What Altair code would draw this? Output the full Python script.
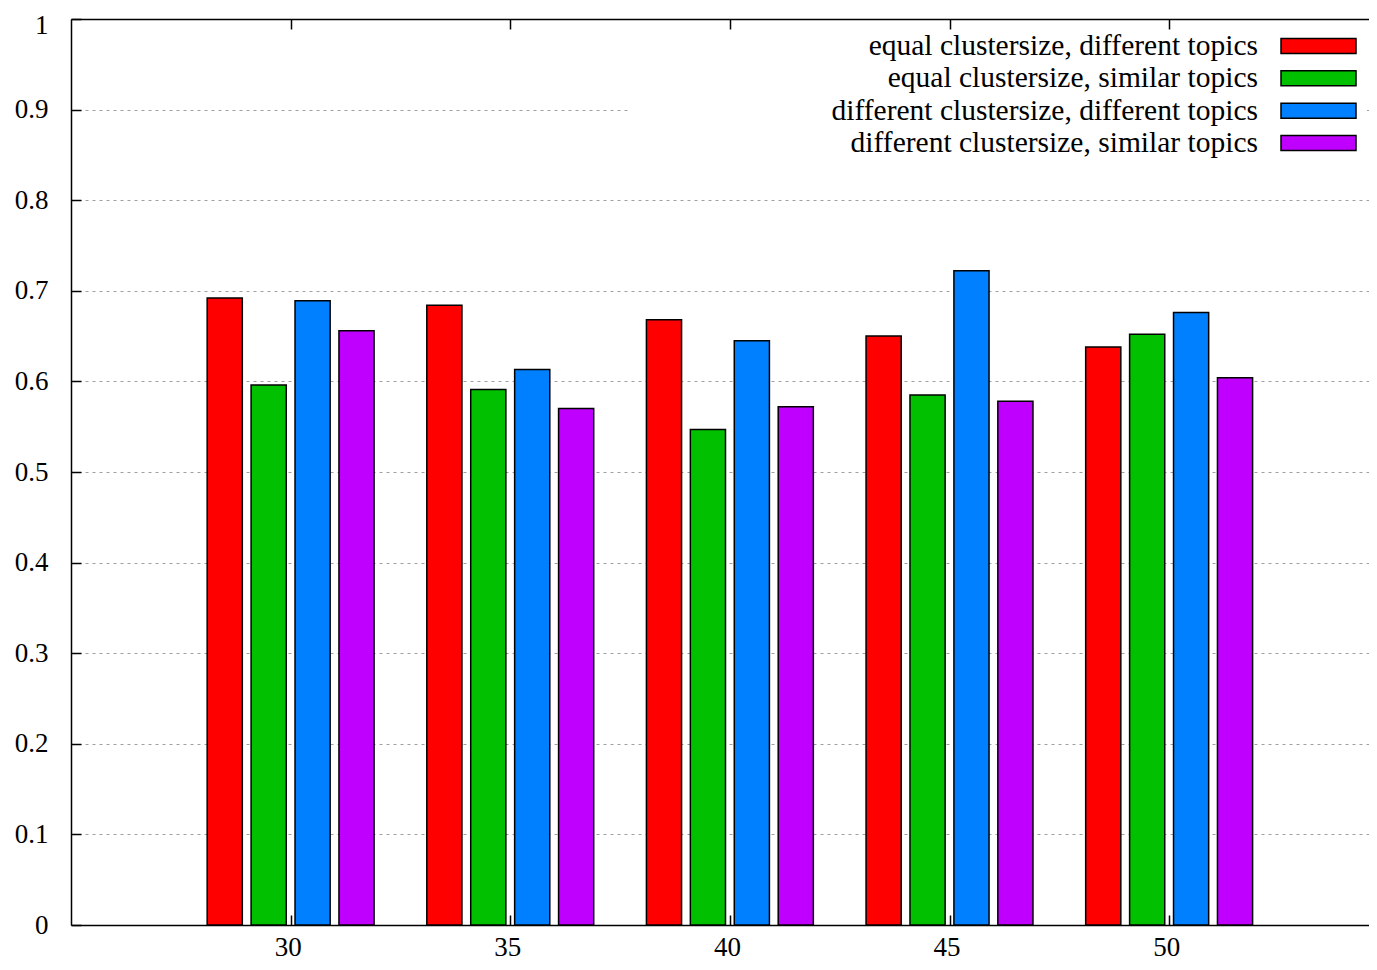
import altair as alt
import pandas as pd

categories = [30, 35, 40, 45, 50]
series_names = [
    "equal clustersize, different topics",
    "equal clustersize, similar topics",
    "different clustersize, different topics",
    "different clustersize, similar topics",
]
series_colors = ["#ff0000", "#00c000", "#0080ff", "#c000ff"]
eq_diff = [0.692, 0.684, 0.668, 0.650, 0.638]
eq_sim = [0.596, 0.591, 0.547, 0.585, 0.652]
diff_diff = [0.689, 0.613, 0.645, 0.722, 0.676]
diff_sim = [0.656, 0.570, 0.572, 0.578, 0.604]
y_ticks = [0, 0.1, 0.2, 0.3, 0.4, 0.5, 0.6, 0.7, 0.8, 0.9, 1]

rows = []
for s, vals in enumerate([eq_diff, eq_sim, diff_diff, diff_sim]):
    for c, v in zip(categories, vals):
        rows.append({"cat": c, "s": s, "series": series_names[s], "value": v})
df = pd.DataFrame(rows)
legend_df = pd.DataFrame({"series": series_names})

W, H = 1298, 906
FONT = "Liberation Serif"
xscale = alt.Scale(domain=[25, 54.55], nice=False, zero=False)
yscale = alt.Scale(domain=[0, 1], nice=False, zero=True)
color_enc = alt.Color("series:N", scale=alt.Scale(domain=series_names, range=series_colors), legend=None)

base = alt.Chart(df).transform_calculate(
    x0="datum.cat + datum.s - 1.5 - 0.4",
    x1="datum.cat + datum.s - 1.5 + 0.4",
)

bars = base.mark_rect(stroke="black", strokeWidth=1.5).encode(
    x=alt.X("x0:Q", scale=xscale, axis=alt.Axis(
        values=categories, title=None, tickSize=0, labelPadding=30,
        labelOffset=-3,
        labelBaseline="alphabetic", labelFont=FONT, labelFontSize=27,
        labelColor="black", domainColor="black", domainWidth=1.5, grid=False)),
    x2="x1:Q",
    y=alt.Y("value:Q", scale=yscale, axis=alt.Axis(
        values=y_ticks, title=None, tickSize=0, labelPadding=23, format="~g",
        labelOffset={"expr": "datum.value == 1 ? 6 : 0"},
        labelFont=FONT, labelFontSize=27, labelColor="black",
        domainColor="black", domainWidth=1.5, grid=True, gridDash=[3, 4],
        gridColor="#a0a0a0", gridWidth=1)),
    y2=alt.datum(0),
    color=color_enc,
)

yticks_in = base.mark_rect(opacity=0).encode(
    x=alt.X("x0:Q", scale=xscale, axis=None),
    x2="x1:Q",
    y=alt.Y("value:Q", scale=yscale, axis=alt.Axis(
        orient="right", offset=-W, values=y_ticks, labels=False, domain=False,
        grid=False, tickSize=10, tickColor="black", tickWidth=1.5, title=None)),
    y2=alt.datum(0),
)

xticks_bottom_in = base.mark_rect(opacity=0).encode(
    x=alt.X("x0:Q", scale=xscale, axis=alt.Axis(
        orient="top", offset=-H, values=categories, labels=False, domain=False,
        grid=False, tickSize=10, tickColor="black", tickWidth=1.5, title=None)),
    x2="x1:Q",
    y=alt.Y("value:Q", scale=yscale, axis=None),
    y2=alt.datum(0),
)

xticks_top_in = base.mark_rect(opacity=0).encode(
    x=alt.X("x0:Q", scale=xscale, axis=alt.Axis(
        orient="bottom", offset=-H, values=categories, labels=False, domain=True,
        domainColor="black", domainWidth=1.5,
        grid=False, tickSize=10, tickColor="black", tickWidth=1.5, title=None)),
    x2="x1:Q",
    y=alt.Y("value:Q", scale=yscale, axis=None),
    y2=alt.datum(0),
)

leg_bg = alt.Chart(alt.Data(values=[{"a": 1}])).mark_rect(fill="white").encode(
    x=alt.value(559), x2=alt.value(W - 2), y=alt.value(12), y2=alt.value(140)
)
leg_y = alt.Y("series:N", scale=alt.Scale(type="point", domain=series_names, range=[27, 124], padding=0), axis=None)
leg_text = alt.Chart(legend_df).mark_text(
    align="right", baseline="middle", font=FONT, fontSize=29.5, color="black"
).encode(x=alt.value(1187), y=leg_y, text="series:N")
leg_sw = alt.Chart(legend_df).mark_point(
    shape="M-1,-0.2H1V0.2H-1Z", size=5625, filled=True, stroke="black",
    strokeWidth=1.5, opacity=1
).encode(x=alt.value(1247.5), y=leg_y, color=color_enc)

chart = alt.layer(
    bars, yticks_in, xticks_bottom_in, xticks_top_in, leg_bg, leg_text, leg_sw
).resolve_scale(y="independent").resolve_axis(
    x="independent", y="independent"
).properties(
    width=W, height=H,
    autosize=alt.AutoSizeParams(type="none"),
    padding={"left": 63, "top": 11, "right": 0, "bottom": 36},
    background="white",
).configure_view(stroke=None)

chart.save("out.html", embed_options={"renderer": "svg", "actions": False})
